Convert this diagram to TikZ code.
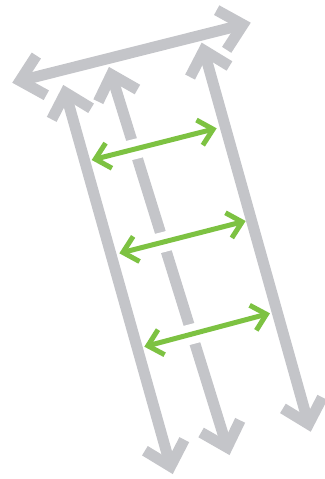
\documentclass[tikz,border=0pt]{standalone}
\usetikzlibrary{calc}

\definecolor{railgray}{RGB}{196,197,201}
\definecolor{rungreen}{RGB}{125,194,66}

% double barb arrow: style, end a, end b, inset of tip, arm length
\newcommand{\barbarrow}[5]{%
  \coordinate (#2v) at ($(#2)!#4!(#3)$);
  \coordinate (#3v) at ($(#3)!#4!(#2)$);
  \draw[#1] (#2v) -- (#3v);
  \draw[#1] ($(#2v)!#5!43:(#3)$) -- (#2v) -- ($(#2v)!#5!-43:(#3)$);
  \draw[#1] ($(#3v)!#5!43:(#2)$) -- (#3v) -- ($(#3v)!#5!-43:(#2)$);
}

\begin{document}
\begin{tikzpicture}[
    x=1pt, y=-1pt,
    rail/.style={draw=railgray, line width=11pt, line join=miter},
    rung/.style={draw=rungreen, line width=5pt, line join=miter},
    gap/.style={draw=white, line width=20pt}
  ]
  \useasboundingbox (0,0) rectangle (324,479);

  % ===================== ends of the rails =====================
  \coordinate (topl) at (12.3,82.7);
  \coordinate (topr) at (250.7,22.7);
  \coordinate (leftt) at (63.3,85);
  \coordinate (leftb) at (172.7,474);
  \coordinate (midt) at (109,67);
  \coordinate (midb) at (229.5,455);
  \coordinate (rightt) at (201.7,42.7);
  \coordinate (rightb) at (310.7,431.7);

  % ===================== ends of the rungs =====================
  \coordinate (runga) at (91.7,160);
  \coordinate (rungaa) at (216.7,128.3);
  \coordinate (rungb) at (119.3,253.3);
  \coordinate (rungbb) at (245.7,221);
  \coordinate (rungc) at (144.3,346.7);
  \coordinate (rungcc) at (270,313.3);

  % ===================== top rail and middle rail =====================
  \barbarrow{rail}{topl}{topr}{8pt}{30pt}
  \barbarrow{rail}{midt}{midb}{8pt}{30pt}

  % ===================== rungs cut the middle rail =====================
  \draw[gap] (runga) -- (rungaa);
  \draw[gap] (rungb) -- (rungbb);
  \draw[gap] (rungc) -- (rungcc);
  \barbarrow{rung}{runga}{rungaa}{3.7pt}{19pt}
  \barbarrow{rung}{rungb}{rungbb}{3.7pt}{19pt}
  \barbarrow{rung}{rungc}{rungcc}{3.7pt}{19pt}

  % ===================== outer rails =====================
  \barbarrow{rail}{leftt}{leftb}{8pt}{30pt}
  \barbarrow{rail}{rightt}{rightb}{8pt}{30pt}

\end{tikzpicture}
\end{document}
